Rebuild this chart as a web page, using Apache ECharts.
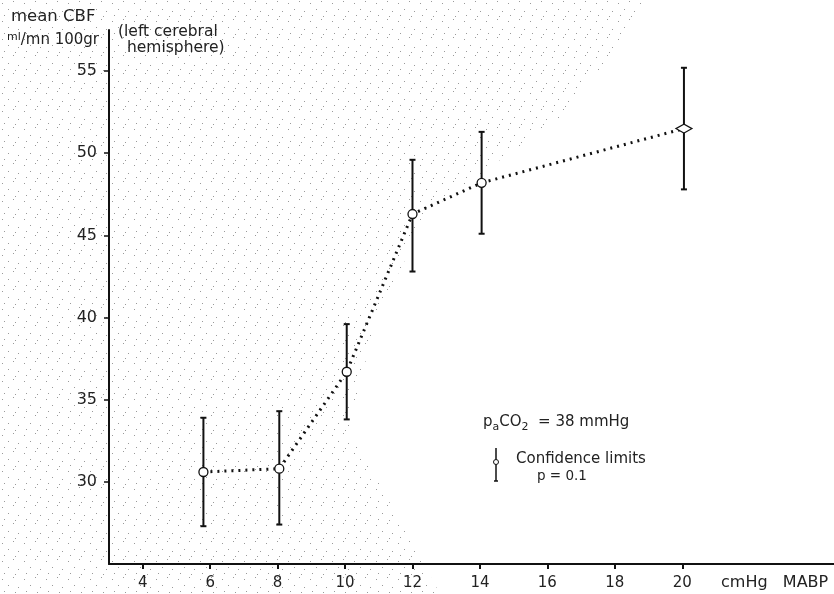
<!DOCTYPE html>
<html>
<head>
<meta charset="utf-8">
<script src="https://cdn.jsdelivr.net/npm/echarts@6/dist/echarts.min.js"></script>
<style>
  html, body { margin: 0; padding: 0; background: #fff; }
  #chart { width: 834px; height: 594px; }
</style>
</head>
<body>
<div id="chart"></div>
<script>
// MABP (cmHg) and mean CBF with confidence limits
var mabp = [5.8, 8.05, 10.05, 12.0, 14.05, 20.05];
var meanCbf = [30.6, 30.8, 36.7, 46.3, 48.2, 51.5];
var lowerLimit = [27.3, 27.4, 33.8, 42.8, 45.1, 47.8];
var upperLimit = [33.9, 34.3, 39.6, 49.6, 51.3, 55.2];
var xTicks = [4, 6, 8, 10, 12, 14, 16, 18, 20];
var yTicks = [30, 35, 40, 45, 50, 55];

var FONT = 'DejaVu Sans';

// small tile of grey dots, used for the stippled shading of the scan
function makeStipple() {
    var c = document.createElement('canvas');
    c.width = 22;
    c.height = 18;
    var ctx = c.getContext('2d');
    ctx.fillStyle = '#9a9a9a';
    [[2, 3], [13, 1], [8, 9], [18, 11], [4, 15], [15, 16]].forEach(function (p) {
        ctx.fillRect(p[0], p[1], 1, 1);
    });
    return c;
}

function render_chart(divId) {
    var dom = document.getElementById(divId);
    var myChart = echarts.init(dom);

    var lineData = mabp.map(function (x, i) { return [x, meanCbf[i]]; });
    var barData = mabp.map(function (x, i) { return [x, lowerLimit[i], upperLimit[i]]; });

    // draws one vertical confidence bar with small caps
    function renderErrorBar(params, api) {
        var x = api.value(0);
        var lo = api.coord([x, api.value(1)]);
        var hi = api.coord([x, api.value(2)]);
        var cap = 3;
        var style = { stroke: '#111', lineWidth: 2 };
        return {
            type: 'group',
            children: [
                { type: 'line', shape: { x1: lo[0], y1: lo[1], x2: hi[0], y2: hi[1] }, style: style },
                { type: 'line', shape: { x1: lo[0] - cap, y1: lo[1], x2: lo[0] + cap, y2: lo[1] }, style: style },
                { type: 'line', shape: { x1: hi[0] - cap, y1: hi[1], x2: hi[0] + cap, y2: hi[1] }, style: style }
            ]
        };
    }

    var txt = function (size) { return size + 'px "' + FONT + '"'; };

    var option = {
        animation: false,
        backgroundColor: '#fff',
        grid: { left: 109, right: 0, top: 30, bottom: 30 },
        xAxis: {
            type: 'value',
            min: 3,
            max: 24.5,
            axisLine: { lineStyle: { color: '#111', width: 2 } },
            axisTick: { show: true, length: 5, customValues: xTicks, lineStyle: { color: '#111', width: 2 } },
            axisLabel: {
                customValues: xTicks,
                color: '#222', fontFamily: FONT, fontSize: 15, margin: 12
            },
            splitLine: { show: false }
        },
        yAxis: {
            type: 'value',
            min: 25,
            max: 57.5,
            axisLine: { show: true, lineStyle: { color: '#111', width: 2 } },
            axisTick: { show: true, length: 5, customValues: yTicks, lineStyle: { color: '#111', width: 1.5 } },
            axisLabel: {
                customValues: yTicks,
                color: '#222', fontFamily: FONT, fontSize: 16, margin: 12
            },
            splitLine: { show: false }
        },
        series: [
            {
                type: 'custom',
                renderItem: renderErrorBar,
                data: barData,
                encode: { x: 0, y: [1, 2] },
                z: 2
            },
            {
                type: 'line',
                data: lineData,
                symbol: function (v, p) { return p.dataIndex === 5 ? 'diamond' : 'circle'; },
                symbolSize: function (v, p) { return p.dataIndex === 5 ? [16, 9] : 9; },
                itemStyle: { color: '#fff', borderColor: '#111', borderWidth: 1.3 },
                lineStyle: { color: '#111', width: 3, type: [2, 5] },
                z: 3
            }
        ],
        graphic: [
            {
                type: 'polygon', z: -10, silent: true,
                shape: { points: [[0, 0], [650, 0], [570, 110], [430, 210], [375, 320], [350, 430], [440, 594], [0, 594]] },
                style: { fill: { image: makeStipple(), repeat: 'repeat' } }
            },
            { type: 'text', left: 11, top: 8, style: { text: 'mean CBF', font: txt(16.5), fill: '#222' } },
            {
                type: 'text', left: 7, top: 32,
                style: {
                    text: '{sup|ml}/mn 100gr',
                    font: txt(15), fill: '#222',
                    rich: { sup: { fontSize: 11, fontFamily: FONT, verticalAlign: 'top', padding: [0, 0, 6, 0] } }
                }
            },
            { type: 'text', left: 118, top: 24, style: { text: '(left cerebral', font: txt(15.5), fill: '#222' } },
            { type: 'text', left: 127, top: 40, style: { text: 'hemisphere)', font: txt(15.5), fill: '#222' } },
            {
                type: 'text', left: 483, top: 415,
                style: {
                    text: 'p{sub|a}CO{sub|2}  = 38 mmHg',
                    font: txt(15), fill: '#222',
                    rich: { sub: { fontSize: 11, fontFamily: FONT, padding: [10, 0, 0, 0] } }
                }
            },
            { type: 'line', shape: { x1: 496, y1: 448, x2: 496, y2: 481 }, style: { stroke: '#111', lineWidth: 1.5 } },
            { type: 'line', shape: { x1: 494, y1: 481, x2: 498, y2: 481 }, style: { stroke: '#111', lineWidth: 1.5 } },
            { type: 'circle', shape: { cx: 496, cy: 462, r: 2.5 }, style: { fill: '#fff', stroke: '#111', lineWidth: 1 } },
            { type: 'text', left: 516, top: 452, style: { text: 'Confidence limits', font: txt(15), fill: '#222' } },
            { type: 'text', left: 537, top: 469, style: { text: 'p = 0.1', font: txt(13.5), fill: '#222' } },
            { type: 'text', left: 721, top: 575, style: { text: 'cmHg   MABP', font: txt(16), fill: '#222' } }
        ]
    };
    myChart.setOption(option);
}

render_chart('chart');
</script>
</body>
</html>
